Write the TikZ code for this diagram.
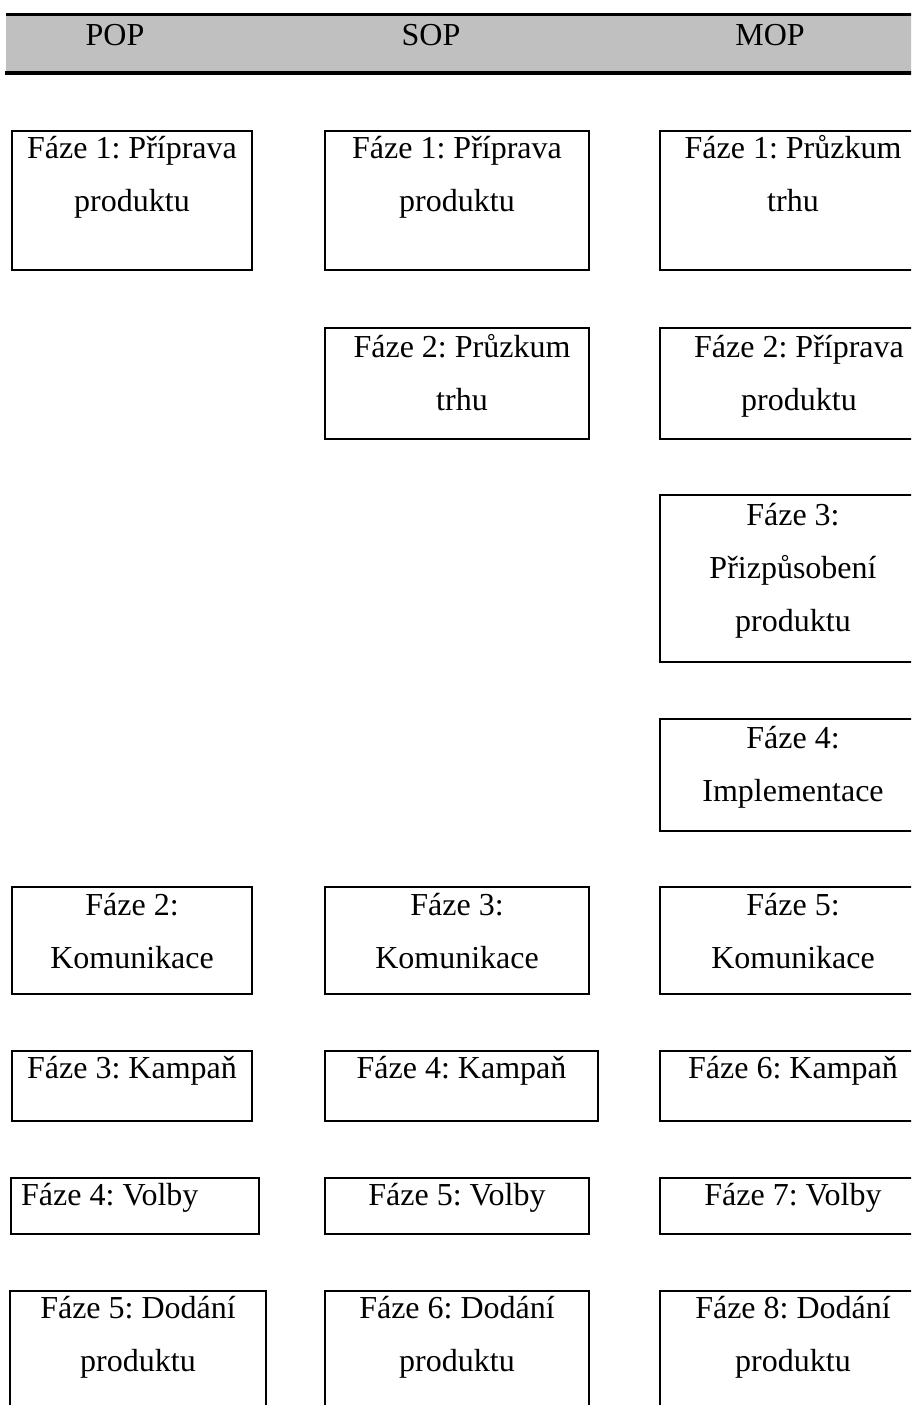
\documentclass[tikz,border=0pt]{standalone}
\usepackage{fontspec}
\setmainfont{Liberation Serif}
\frenchspacing
\newcommand\mlines[1]{\begin{tabular}[t]{@{}c@{}}#1\end{tabular}}
\definecolor{headgray}{RGB}{192,192,192}
\tikzset{
  phasebox/.style={draw=black, line width=2pt, inner sep=0pt, anchor=north west},
  phasetext/.style={anchor=base, inner sep=0pt, font=\fontsize{32}{53}\selectfont\frenchspacing},
  headtext/.style={anchor=base, inner sep=0pt, font=\fontsize{32}{53}\selectfont},
  headline/.style={line width=3pt}
}
\begin{document}
\begin{tikzpicture}[x=1pt,y=-1pt]
\useasboundingbox (0,0) rectangle (911,1405);
\clip (0,0) rectangle (911,1405);
% header band
\fill[headgray] (6,15) rectangle (930,73);
\coordinate (hl1) at (6,15);
\coordinate (hr1) at (930,15);
\coordinate (hl2) at (5,73);
\coordinate (hr2) at (930,73);
\draw[headline] (hl1) -- (hr1);
\draw[headline] (hl2) -- (hr2);
\node[headtext] (pop) at (115,46) {POP};
\node[headtext] (sop) at (431,46) {SOP};
\node[headtext] (mop) at (770,46) {MOP};

% row 1
\node[phasebox, minimum width=240, minimum height=139] (a1) at (11,130) {};
\node[phasebox, minimum width=264, minimum height=139] (b1) at (324,130) {};
\node[phasebox, minimum width=266, minimum height=139] (c1) at (659,130) {};
\node[phasetext] (a1t) at ([yshift=-28pt]a1.north) {\mlines{Fáze 1: Příprava\\produktu}};
\node[phasetext] (b1t) at ([yshift=-28pt]b1.north) {\mlines{Fáze 1: Příprava\\produktu}};
\node[phasetext] (c1t) at ([yshift=-28pt]c1.north) {\mlines{Fáze 1: Průzkum\\trhu}};

% row 2
\node[phasebox, minimum width=264, minimum height=111] (b2) at (324,327) {};
\node[phasebox, minimum width=266, minimum height=111] (c2) at (659,327) {};
\node[phasetext] (b2t) at ([xshift=5pt,yshift=-30pt]b2.north) {\mlines{Fáze 2: Průzkum\\trhu}};
\node[phasetext] (c2t) at ([xshift=6pt,yshift=-30pt]c2.north) {\mlines{Fáze 2: Příprava\\produktu}};

% row 3
\node[phasebox, minimum width=266, minimum height=167] (c3) at (659,494) {};
\node[phasetext] (c3t) at ([yshift=-31pt]c3.north) {\mlines{Fáze 3:\\Přizpůsobení\\produktu}};

% row 4
\node[phasebox, minimum width=266, minimum height=112] (c4) at (659,718) {};
\node[phasetext] (c4t) at ([yshift=-30pt]c4.north) {\mlines{Fáze 4:\\Implementace}};

% row 5
\node[phasebox, minimum width=240, minimum height=107] (a5) at (11,886) {};
\node[phasebox, minimum width=264, minimum height=107] (b5) at (324,886) {};
\node[phasebox, minimum width=266, minimum height=107] (c5) at (659,886) {};
\node[phasetext] (a5t) at ([yshift=-29pt]a5.north) {\mlines{Fáze 2:\\Komunikace}};
\node[phasetext] (b5t) at ([yshift=-29pt]b5.north) {\mlines{Fáze 3:\\Komunikace}};
\node[phasetext] (c5t) at ([yshift=-29pt]c5.north) {\mlines{Fáze 5:\\Komunikace}};

% row 6
\node[phasebox, minimum width=240, minimum height=70] (a6) at (11,1050) {};
\node[phasebox, minimum width=273, minimum height=70] (b6) at (324,1050) {};
\node[phasebox, minimum width=266, minimum height=70] (c6) at (659,1050) {};
\node[phasetext] (a6t) at ([yshift=-28pt]a6.north) {Fáze 3: Kampaň};
\node[phasetext] (b6t) at ([yshift=-28pt]b6.north) {Fáze 4: Kampaň};
\node[phasetext] (c6t) at ([yshift=-28pt]c6.north) {Fáze 6: Kampaň};

% row 7
\node[phasebox, minimum width=248, minimum height=56] (a7) at (10,1177) {};
\node[phasebox, minimum width=264, minimum height=56] (b7) at (324,1177) {};
\node[phasebox, minimum width=266, minimum height=56] (c7) at (659,1177) {};
\node[phasetext, anchor=base west] (a7t) at ([xshift=11pt,yshift=-28pt]a7.north west) {Fáze 4: Volby};
\node[phasetext] (b7t) at ([yshift=-28pt]b7.north) {Fáze 5: Volby};
\node[phasetext] (c7t) at ([yshift=-28pt]c7.north) {Fáze 7: Volby};

% row 8
\node[phasebox, minimum width=256, minimum height=140] (a8) at (9,1290) {};
\node[phasebox, minimum width=264, minimum height=140] (b8) at (324,1290) {};
\node[phasebox, minimum width=266, minimum height=140] (c8) at (659,1290) {};
\node[phasetext] (a8t) at ([yshift=-28pt]a8.north) {\mlines{Fáze 5: Dodání\\produktu}};
\node[phasetext] (b8t) at ([yshift=-28pt]b8.north) {\mlines{Fáze 6: Dodání\\produktu}};
\node[phasetext] (c8t) at ([yshift=-28pt]c8.north) {\mlines{Fáze 8: Dodání\\produktu}};
\end{tikzpicture}
\end{document}
